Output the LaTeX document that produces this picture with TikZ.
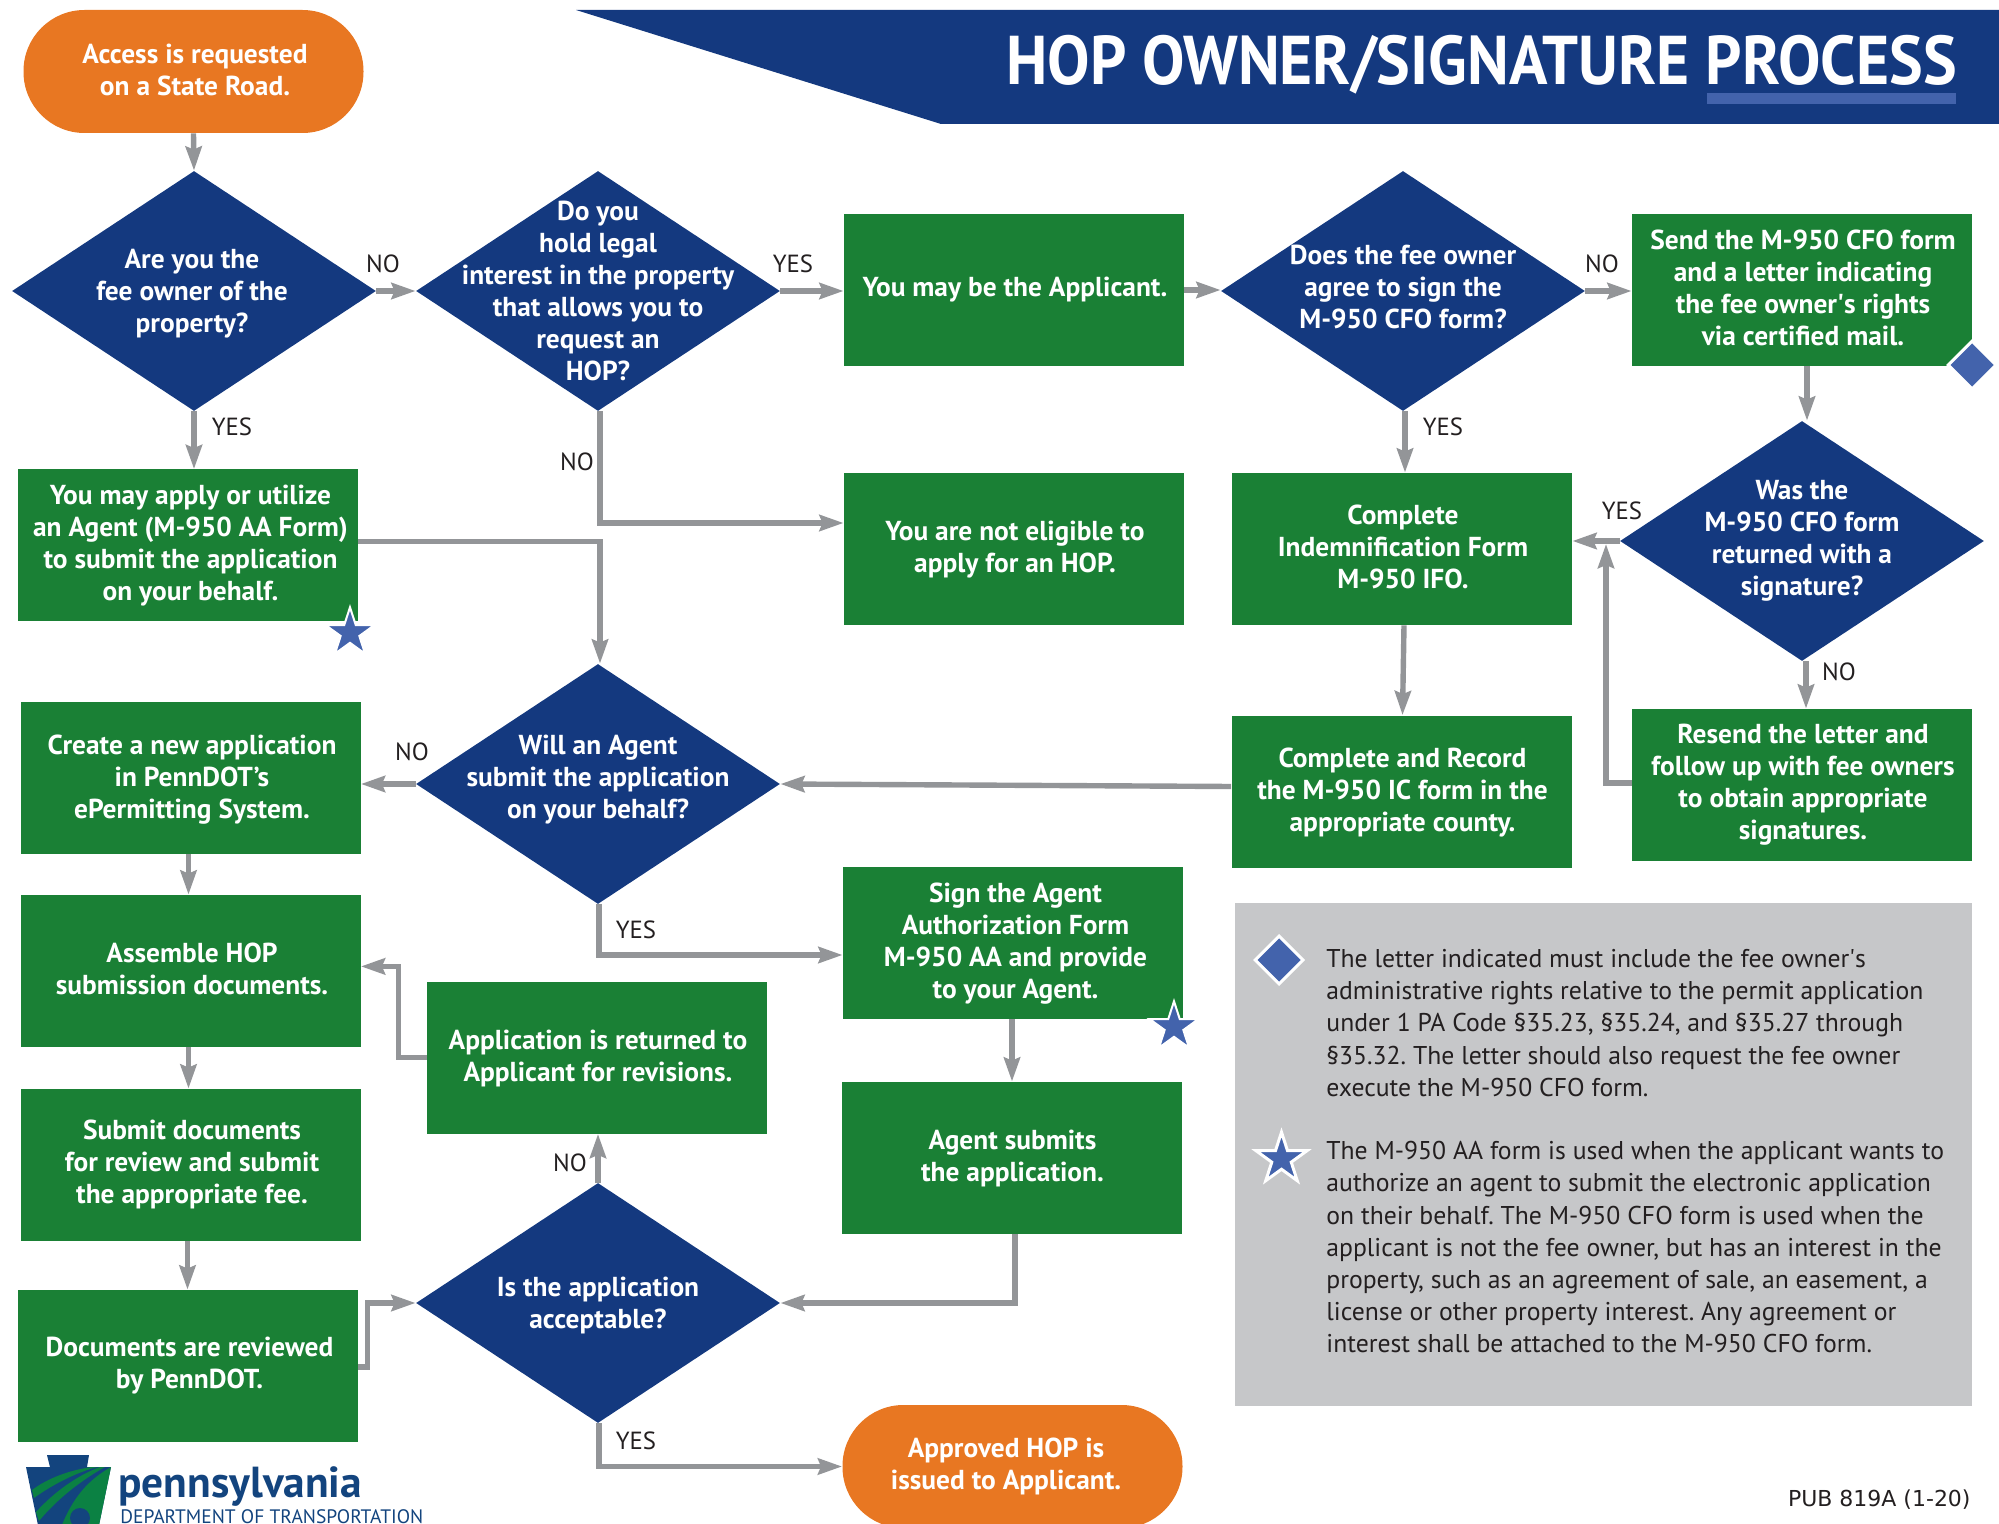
\documentclass[tikz,border=0pt]{standalone}
\usepackage{fontspec}
\setmainfont{PT Sans}
\newfontfamily\pubfont{DejaVu Sans}
\newfontfamily\titlefont[FakeStretch=0.92]{PT Sans Bold}
\usetikzlibrary{arrows.meta,shapes.geometric,calc}
\definecolor{navy}{HTML}{14397F}
\definecolor{leaf}{HTML}{1A8035}
\definecolor{tang}{HTML}{E87722}
\definecolor{accent}{HTML}{4363AC}
\definecolor{panelgrey}{HTML}{C6C7C9}
\definecolor{linegrey}{HTML}{939598}
\definecolor{inkk}{HTML}{231F20}
\definecolor{logoblue}{HTML}{13447E}
\definecolor{logogreen}{HTML}{0B8143}
\tikzset{
  x=.5pt,y=-.5pt,
  bodytext/.style={font=\fontsize{13.7}{16}\selectfont\bfseries,text=white,align=center,inner sep=0pt},
  gbox/.style={rectangle,fill=leaf,minimum width=170pt,minimum height=76pt,inner sep=0pt},
  oval/.style={rectangle,rounded corners=30.5pt,fill=tang,minimum width=170pt,minimum height=61.5pt,inner sep=0pt},
  dia/.style={diamond,fill=navy,minimum width=182pt,minimum height=120pt,aspect=1.517,inner sep=0pt},
  lab/.style={font=\fontsize{12.4}{15}\selectfont,text=inkk,inner sep=0pt},
  conn/.style={draw=linegrey,line width=2.7pt,-{Stealth[length=12pt,width=8pt,inset=1.5pt]}},
  note/.style={font=\fontsize{12.85}{16.1}\selectfont\frenchspacing,text=inkk,align=left,inner sep=0pt,anchor=north west},
  markstar/.style={star,star points=5,star point ratio=2.618,fill=accent,draw=white,line width=1pt,miter limit=10,minimum size=25.7pt,inner sep=0pt},
  markdia/.style={diamond,aspect=1,fill=accent,draw=white,line width=1.5pt,minimum width=24.5pt,minimum height=24.5pt,inner sep=0pt},
}
\begin{document}
\begin{tikzpicture}
\useasboundingbox (0,0) rectangle (1999,1524);
% title banner
\fill[navy] (576,10) -- (1999,10) -- (1999,124) -- (941,124) -- cycle;
\fill[accent] (1707,93) rectangle (1956,104);
\node (title) [anchor=east,font=\titlefont\fontsize{34.5}{40}\selectfont,text=white,inner sep=0pt] at (1957,65) {HOP OWNER/SIGNATURE PROCESS};
% panel
\fill[panelgrey] (1235,903) rectangle (1972,1406);
\node (note1) [note] at (1326,949) {The letter indicated must include the fee owner\textquotesingle s\\administrative rights relative to the permit application\\under 1 PA Code §35.23, §35.24, and §35.27 through\\§35.32. The letter should also request the fee owner\\execute the M-950 CFO form.};
\node (note2) [note] at (1326,1141) {The M-950 AA form is used when the applicant wants to\\authorize an agent to submit the electronic application\\on their behalf. The M-950 CFO form is used when the\\applicant is not the fee owner, but has an interest in the\\property, such as an agreement of sale, an easement, a\\license or other property interest. Any agreement or\\interest shall be attached to the M-950 CFO form.};
\node (mark3) [markdia] at (1279,960) {};
\node (mark4) [markstar,line width=1.5pt,minimum size=26.8pt] at (1281.5,1159) {};
% ovals
\node (start) [oval] at (193.5,71.5) {};
\node (startt) [bodytext] at (195,70) {Access is requested\\on a State Road.};
\node (done) [oval] at (1012.5,1466.5) {};
\node (donet) [bodytext] at (1006,1466) {Approved HOP is\\issued to Applicant.};
% decisions
\node (d1) [dia] at (194,291) {};
\node (d1t) [bodytext] at (192,293.5) {Are you the\\fee owner of the\\property?};
\node (d2) [dia] at (598,291) {};
\node (d2t) [bodytext] at (598,291) {Do you\\hold legal\\interest in the property\\that allows you to\\request an\\HOP?};
\node (d3) [dia] at (1403,291) {};
\node (d3t) [bodytext] at (1403,287) {Does the fee owner\\agree to sign the\\M-950 CFO form?};
\node (d4) [dia] at (1802,541) {};
\node (d4t) [bodytext] at (1802,541) {Was the\\M-950 CFO form\\returned with a\\signature?};
\node (d5) [dia] at (598,784) {};
\node (d5t) [bodytext] at (598,780) {Will an Agent\\submit the application\\on your behalf?};
\node (d6) [dia] at (598,1303) {};
\node (d6t) [bodytext] at (598,1305.5) {Is the application\\acceptable?};
% process boxes
\node (applicant) [gbox] at (1014,290) {};
\node (applicantt) [bodytext] at (1015,290) {You may be the Applicant.};
\node (send) [gbox] at (1802,290) {};
\node (sendt) [bodytext] at (1803,287.5) {Send the M-950 CFO form\\and a letter indicating\\the fee owner\textquotesingle s rights\\via certified mail.};
\node (agent) [gbox] at (188,545.5) {};
\node (agentt) [bodytext] at (190.5,545.5) {You may apply or utilize\\an Agent (M-950 AA Form)\\to submit the application\\on your behalf.};
\node (noteligible) [gbox] at (1014,549) {};
\node (noteligiblet) [bodytext] at (1015,550) {You are not eligible to\\apply for an HOP.};
\node (indem) [gbox] at (1402,549) {};
\node (indemt) [bodytext] at (1403,546.5) {Complete\\Indemnification Form\\M-950 IFO.};
\node (create) [gbox] at (190.5,777.5) {};
\node (createt) [bodytext] at (192,780) {Create a new application\\in PennDOT’s\\ePermitting System.};
\node (record) [gbox] at (1401.5,791.5) {};
\node (recordt) [bodytext] at (1402.5,793) {Complete and Record\\the M-950 IC form in the\\appropriate county.};
\node (resend) [gbox] at (1802,785) {};
\node (resendt) [bodytext] at (1803,785) {Resend the letter and\\follow up with fee owners\\to obtain appropriate\\signatures.};
\node (sign) [gbox] at (1013,943) {};
\node (signt) [bodytext] at (1015.5,944) {Sign the Agent\\Authorization Form\\M-950 AA and provide\\to your Agent.};
\node (assemble) [gbox] at (190.5,971) {};
\node (assemblet) [bodytext] at (192,968.5) {Assemble HOP\\submission documents.};
\node (returned) [gbox] at (597,1057.5) {};
\node (returnedt) [bodytext] at (598,1058) {Application is returned to\\Applicant for revisions.};
\node (submit) [gbox] at (190.5,1165) {};
\node (submitt) [bodytext] at (192,1164) {Submit documents\\for review and submit\\the appropriate fee.};
\node (agentsub) [gbox] at (1011.5,1158) {};
\node (agentsubt) [bodytext] at (1012.5,1158) {Agent submits\\the application.};
\node (reviewed) [gbox] at (188,1366) {};
\node (reviewedt) [bodytext] at (189.5,1366) {Documents are reviewed\\by PennDOT.};
% markers on boxes
\node (mark1) [markstar] at (350,633) {};
\node (mark2) [markstar] at (1174,1027) {};
\node (mark5) [markdia] at (1972,365) {};
% connectors
\draw[conn] (start.south) -- (d1.north);
\draw[conn] (d1.east) -- (d2.west);
\draw[conn] (d2.east) -- (d2.east -| applicant.west);
\draw[conn] (applicant.east) -- (applicant.east -| d3.west);
\draw[conn] (d3.east) -- (d3.east -| send.west);
\draw[conn] (d1.south) -- (agent.north -| d1.south);
\draw[conn] ([xshift=1pt]d2.south) |- ([yshift=13pt]noteligible.west);
\draw[conn] ([yshift=2pt]agent.east) -| ([xshift=1pt]d5.north);
\draw[conn] ([xshift=1pt]d3.south) -- ([xshift=1pt]d3.south |- indem.north);
\draw[conn] ([xshift=2.5pt]send.south) -- ([xshift=2.5pt]send.south |- d4.north);
\draw[conn] (d4.west) -- (d4.west -| indem.east);
\draw[conn] ([xshift=2pt]d4.south) -- ([xshift=2pt]d4.south |- resend.north);
\draw[conn] ([yshift=1pt]resend.west) -| (1606,544);
\draw[conn] ([xshift=1pt]indem.south) -- ([xshift=.5pt]record.north);
\draw[conn] ([yshift=2.5pt]record.west) -- (d5.east);
\draw[conn] (d5.west) -- (create.east |- d5.west);
\draw[conn] ([xshift=.5pt]d5.south) |- ([yshift=-6pt]sign.west);
\draw[conn] ([xshift=-.5pt]sign.south) -- ([xshift=-.5pt]sign.south |- agentsub.north);
\draw[conn] ([xshift=-1pt]create.south) -- ([xshift=-1pt]assemble.north);
\draw[conn] ([xshift=-1pt]assemble.south) -- ([xshift=-1pt]submit.north);
\draw[conn] ([xshift=-1.5pt]submit.south) -- ([xshift=-1.5pt]submit.south |- reviewed.north);
\draw[conn] ([yshift=-.5pt]reviewed.east) -- ++(9,0) |- (d6.west);
\draw[conn] (d6.north) -- (returned.south -| d6.north);
\draw[conn] (returned.west) -- ++(-28,0) |- ([yshift=2.3pt]assemble.east);
\draw[conn] ([xshift=1.75pt]agentsub.south) |- (d6.east);
\draw[conn] ([xshift=.5pt]d6.south) |- (done.west);
% branch labels
\node (l1) [lab] at (232,427) {YES};
\node (l2) [lab] at (383,264) {NO};
\node (l3) [lab] at (793,264) {YES};
\node (l4) [lab] at (577,462) {NO};
\node (l5) [lab] at (1602,264) {NO};
\node (l6) [lab] at (1443,427) {YES};
\node (l7) [lab] at (1622,511) {YES};
\node (l8) [lab] at (1839,672) {NO};
\node (l9) [lab] at (412,752) {NO};
\node (l10) [lab] at (636,930) {YES};
\node (l11) [lab] at (570,1163) {NO};
\node (l12) [lab] at (636,1441) {YES};
% publication number
\node (pub) [anchor=east,font=\pubfont\fontsize{11}{13}\selectfont,text=inkk,inner sep=0pt] at (1971,1500) {PUB 819A (1-20)};
% logo
\fill[logoblue] (47,1455) -- (89,1455) -- (87,1467) -- (111,1467) -- (98,1530) -- (39,1530) -- (26,1467) -- (50,1467) -- cycle;
\fill[logogreen] (92,1467) .. controls (70,1470) and (48,1478) .. (32,1490) -- (34,1498) .. controls (52,1485) and (75,1473) .. (97,1467) -- cycle;
\fill[logogreen] (100,1467) .. controls (78,1475) and (54,1492) .. (36,1512) -- (39,1521) .. controls (58,1498) and (82,1480) .. (105,1467) -- cycle;
\fill[logogreen] (111,1467) .. controls (88,1480) and (72,1498) .. (60,1530) -- (98,1530) -- cycle;
\fill[logoblue] (80,1518) circle (10);
\node (logo1) [anchor=base west,font=\fontsize{21.7}{24}\selectfont\bfseries,text=logoblue,inner sep=0pt] at (118,1497) {pennsylvania};
\node (logo2) [anchor=base west,font=\fontsize{9.75}{12}\selectfont,text=logoblue,inner sep=0pt] at (120,1523) {DEPARTMENT OF TRANSPORTATION};
\end{tikzpicture}
\end{document}
